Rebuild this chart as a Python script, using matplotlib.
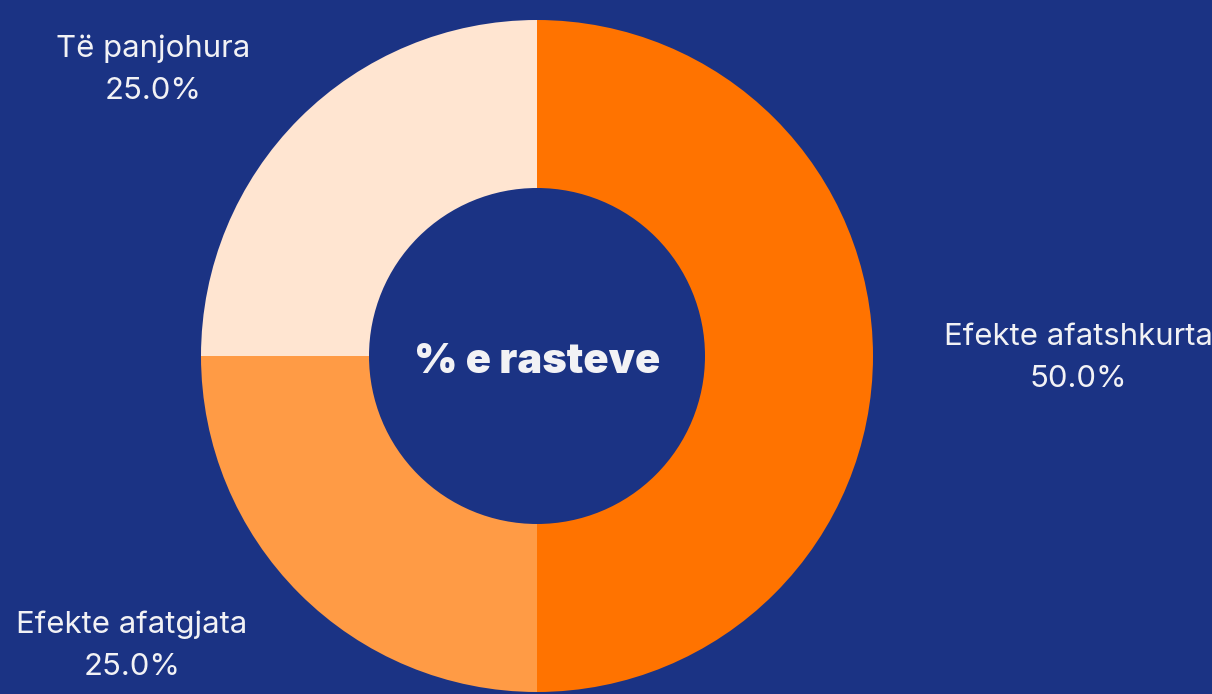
import matplotlib
matplotlib.use("Agg")
import matplotlib.pyplot as plt

labels = ["Efekte afatshkurta", "Efekte afatgjata", "Të panjohura"]
values = [50.0, 25.0, 25.0]
colors = ["#FF7300", "#FF9B45", "#FFE5D1"]

bg = "#1B3384"
txt = "#F2F2F5"

plt.rcParams["font.family"] = ["Inter", "DejaVu Sans"]

fig = plt.figure(figsize=(12.12, 6.94), dpi=100, facecolor=bg)
ax = fig.add_axes([0, 0, 1, 1])
ax.set_facecolor(bg)

# pixel coordinates, y up
cx, cy, r = 537, 694 - 356, 336
ax.pie(values, colors=colors, startangle=90, counterclock=False,
       center=(cx, cy), radius=r,
       wedgeprops=dict(width=r * 0.5, linewidth=0))
ax.set_xlim(0, 1212)
ax.set_ylim(0, 694)
ax.set_aspect("equal")
ax.axis("off")

label_pos = [(cx + 541, cy - 2), (cx - 405, cy - 290), (cx - 384, cy + 286)]
for lab, v, (x, y) in zip(labels, values, label_pos):
    ax.text(x, y, f"{lab}\n{v:.1f}%", ha="center", va="center",
            color=txt, fontsize=22.4, linespacing=1.62)

ax.text(cx, cy - 6, "% e rasteve", ha="center", va="center", color=txt,
        fontsize=30, fontweight="black")

fig.savefig("out.png", dpi=100, facecolor=bg)
